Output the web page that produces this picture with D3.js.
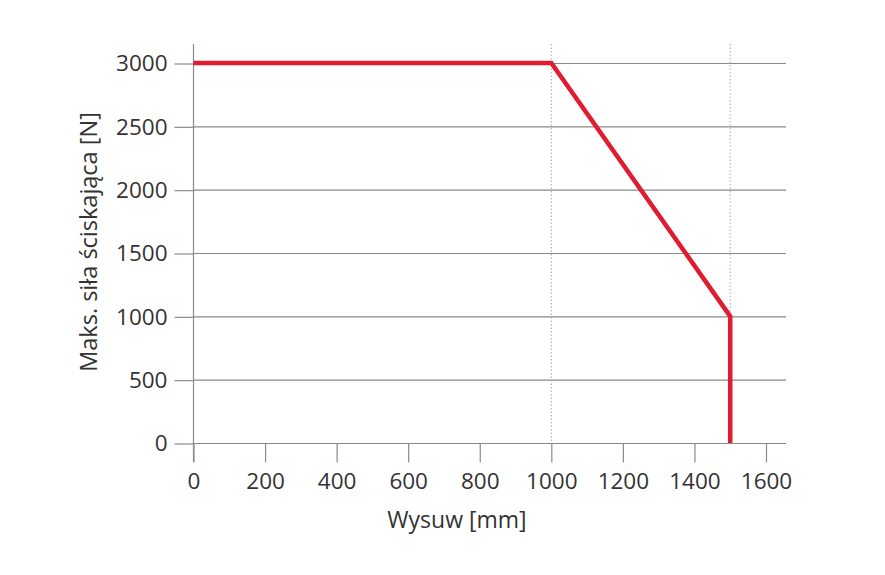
<!DOCTYPE html>
<html><head><meta charset="utf-8">
<script src="https://cdn.jsdelivr.net/npm/d3@7"></script>
<style>body{margin:0;background:#fff}svg{display:block}text{font-family:"Open Sans",sans-serif;fill:#333}</style>
</head><body>
<svg id="c" width="885" height="575"></svg>
<script>
const xTicks = [0,200,400,600,800,1000,1200,1400,1600];
const yTicks = [0,500,1000,1500,2000,2500,3000];
const curveX = [0,1000,1500,1500];
const curveY = [3000,3000,1000,0];
const refX = [1000,1500];
const xTitle = "Wysuw [mm]";
const yTitle = "Maks. siła ściskająca [N]";

(function(){
const svg = d3.select("#c");
const x = d3.scaleLinear().domain([0,1600]).range([193.5,766]);
const y = d3.scaleLinear().domain([0,3000]).range([443,63]);
const pLeft = 193.5, pRight = 786, pTop = 44, pBottomExt = 462;
const grey = "#8a8a8a";

// gridlines
svg.append("g").selectAll("line").data(yTicks).join("line")
  .attr("x1", pLeft).attr("x2", pRight)
  .attr("y1", d=>y(d)+0.5).attr("y2", d=>y(d)+0.5)
  .attr("stroke", grey).attr("stroke-width",1.2);

// dotted reference verticals
svg.append("g").selectAll("line").data(refX).join("line")
  .attr("x1", d=>x(d)).attr("x2", d=>x(d))
  .attr("y1", pTop).attr("y2", y(0))
  .attr("stroke", "#aaa").attr("stroke-width",1).attr("stroke-dasharray","1.5,2");

// y axis
const ya = svg.append("g").attr("transform",`translate(${pLeft},0.5)`)
  .call(d3.axisLeft(y).tickValues(yTicks).tickSize(19).tickPadding(7).tickFormat(d3.format("d")));
ya.select(".domain").remove();
ya.selectAll(".tick line").attr("stroke", grey).attr("stroke-width",1.2);
ya.selectAll(".tick text").style("font-size","22.5px").attr("fill","#333");
svg.append("line").attr("x1",pLeft).attr("x2",pLeft).attr("y1",pTop).attr("y2",pBottomExt)
  .attr("stroke",grey).attr("stroke-width",1.2);

// x axis
const xa = svg.append("g").attr("transform",`translate(0,${y(0)+0.5})`)
  .call(d3.axisBottom(x).tickValues(xTicks).tickSize(19).tickPadding(10.5).tickFormat(d3.format("d")));
xa.select(".domain").remove();
xa.selectAll(".tick line").attr("stroke", grey).attr("stroke-width",1.2);
xa.selectAll(".tick text").style("font-size","22.5px").attr("fill","#333");

// curve
const pts = curveX.map((v,i)=>[v,curveY[i]]);
svg.append("path").datum(pts)
  .attr("d", d3.line().x(d=>x(d[0])).y(d=>y(d[1])))
  .attr("fill","none").attr("stroke","#e11b30").attr("stroke-width",4.5)
  .attr("stroke-linejoin","miter");

// titles
svg.append("text").attr("x",457).attr("y",528).attr("text-anchor","middle")
  .style("font-size","23px").text(xTitle);
svg.append("text").attr("transform","translate(97,242) rotate(-90)").attr("text-anchor","middle")
  .style("font-size","23.5px").text(yTitle);
})();
</script>
</body></html>
